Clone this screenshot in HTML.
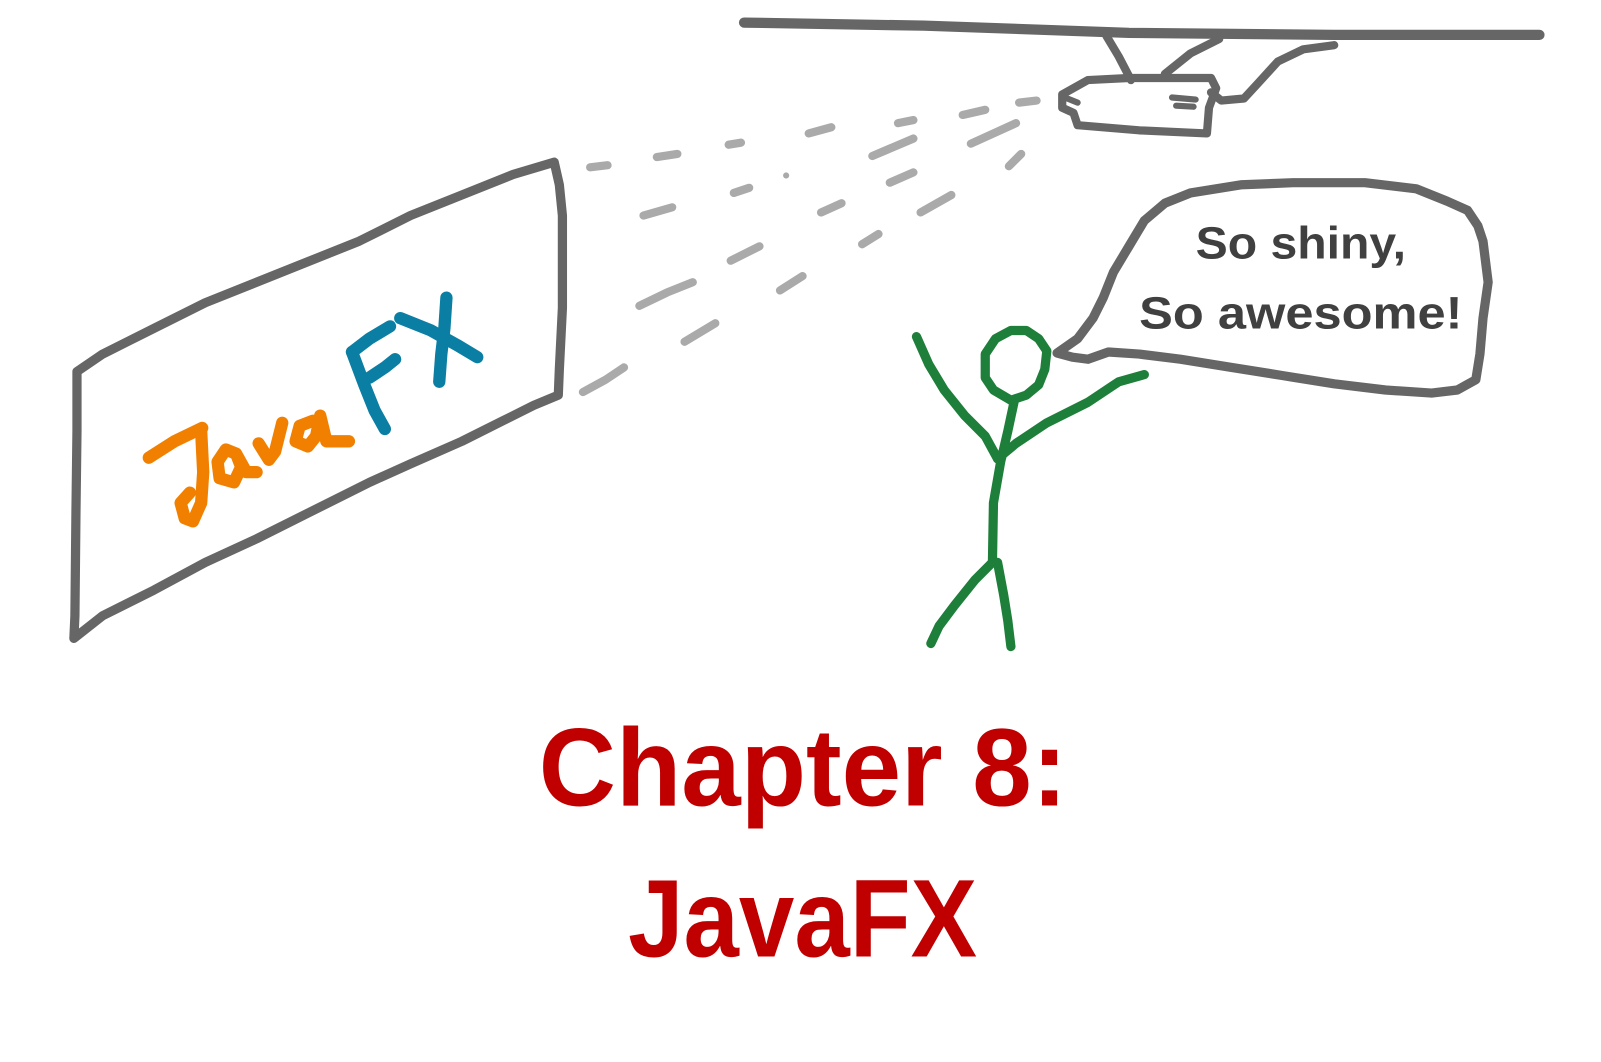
<!DOCTYPE html>
<html><head><meta charset="utf-8"><style>
html,body{margin:0;padding:0;background:#fff;}
svg{display:block;}
</style></head><body>
<svg width="1601" height="1062" viewBox="0 0 1601 1062" xmlns="http://www.w3.org/2000/svg">
<g transform="scale(1.0263)">
<g fill="none" stroke-linecap="round" stroke-linejoin="round">
<path d="M75,362 L100,345 L150,320 L200,295 L300,255 L350,235 L400,210 L450,190 L500,170 L540,158 L545,180 L548,210 L548,300 L545,360 L544,385 L520,395 L490,410 L450,430 L400,452 L360,470 L300,500 L250,525 L200,548 L150,575 L100,600 L72,622 L73,600 L74,500 L75,420 Z" stroke="#666" stroke-width="9"/>
<path d="M725,22 L900,25 L1100,32 L1300,34 L1500,34" stroke="#666" stroke-width="10"/>
<path d="M1078,35 L1090,55 L1102,78" stroke="#666" stroke-width="8"/>
<path d="M1188,38 L1160,52 L1135,72" stroke="#666" stroke-width="8"/>
<path d="M1300,44 L1270,48 L1245,60 L1225,82 L1212,96 L1190,98 L1180,90" stroke="#666" stroke-width="8"/>
<path d="M1035,92 L1060,78 L1100,76 L1180,76 L1185,86 L1178,105 L1176,130 L1110,127 L1050,122 L1046,110 L1035,105 Z" stroke="#666" stroke-width="8"/>
<path d="M1142,95 L1165,97 M1146,103 L1163,104 M1040,96 L1050,100" stroke="#666" stroke-width="6"/>
<g stroke="#aaa" stroke-width="8">
<path d="M575,163 L592,161"/><path d="M640,153 L660,150"/><path d="M710,141 L722,139"/><path d="M788,130 L810,124"/><path d="M875,120 L890,117"/><path d="M938,112 L960,107"/><path d="M993,100 L1010,98"/>
<path d="M627,210 L655,202"/><path d="M715,188 L730,183"/><path d="M800,207 L820,198"/><path d="M850,152 L890,135"/><path d="M867,178 L890,168"/><path d="M946,140 L990,120"/><path d="M983,162 L995,150"/>
<path d="M623,298 L650,285 L675,275"/><path d="M712,254 L740,240"/><path d="M760,283 L782,269"/><path d="M840,238 L856,228"/><path d="M897,207 L927,190"/>
<path d="M568,382 L590,370 L608,358"/><path d="M667,333 L697,315"/>
</g>
<circle cx="766" cy="171" r="3" fill="#aaa"/>
<path d="M1030,344 L1050,330 L1065,310 L1075,290 L1085,265 L1100,240 L1115,215 L1135,198 L1160,188 L1210,180 L1260,178 L1330,178 L1380,184 L1410,196 L1430,205 L1440,220 L1445,235 L1450,275 L1445,310 L1442,345 L1438,370 L1420,380 L1395,383 L1350,380 L1300,374 L1250,366 L1200,358 L1150,350 L1110,345 L1080,343 L1060,350 L1045,348 Z" stroke="#666" stroke-width="9"/>
<g stroke="#1e7f3a" stroke-width="9">
<path d="M985,322 L1000,322 L1012,330 L1020,342 L1018,360 L1012,375 L1000,385 L985,390 L968,380 L960,368 L960,345 L970,330 Z"/>
<path d="M988,392 L982,420 L975,450 L968,490 L967,548"/>
<path d="M893,328 L905,355 L920,380 L940,405 L960,425 L972,447"/>
<path d="M972,447 L990,432 L1020,412 L1060,392 L1090,372 L1115,365"/>
<path d="M967,548 L950,565 L930,590 L915,610 L907,627"/>
<path d="M972,548 L978,580 L982,605 L985,630"/>
</g>
<g stroke="#f28000" stroke-width="12">
<path d="M145,446 L170,430 L197,417"/>
<path d="M196,420 L198,460 L196,490 L188,508 L180,505 L176,490 L185,480"/>
<path d="M230,442 L220,438 L212,450 L214,466 L228,470 L235,455 L230,442 L240,460 L250,460"/>
<path d="M252,432 L262,448 L268,440 L275,412"/>
<path d="M305,410 L292,415 L288,430 L300,435 L308,425 L312,405 L318,430 L340,430"/>
</g>
<g stroke="#0b7ea3" stroke-width="12">
<path d="M343,343 L355,375 L365,400 L375,418"/>
<path d="M343,343 L360,330 L380,318"/>
<path d="M360,368 L375,358 L385,350"/>
<path d="M390,310 L420,322 L445,336 L465,348"/>
<path d="M435,290 L433,320 L430,345 L428,372"/>
</g>
</g>
<g font-family="'Liberation Sans',sans-serif" font-weight="bold">
<text x="1165" y="252" font-size="44" fill="#404040" textLength="205" lengthAdjust="spacingAndGlyphs">So shiny,</text>
<text x="1110" y="320" font-size="44" fill="#404040" textLength="315" lengthAdjust="spacingAndGlyphs">So awesome!</text>
<text x="525" y="785" font-size="108" fill="#c00000" textLength="515" lengthAdjust="spacingAndGlyphs">Chapter 8:</text>
<text x="612" y="932" font-size="108" fill="#c00000" textLength="340" lengthAdjust="spacingAndGlyphs">JavaFX</text>
</g>
</g>
</svg>
</body></html>
